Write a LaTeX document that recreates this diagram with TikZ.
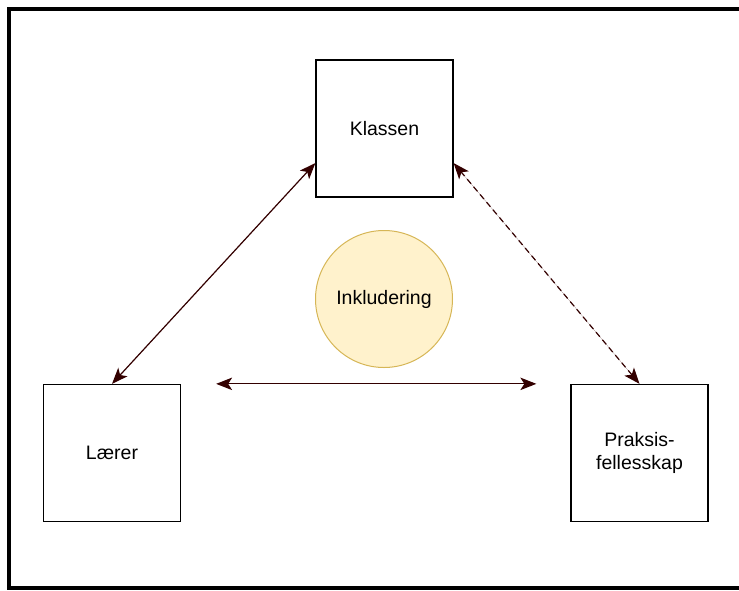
\documentclass[tikz,border=0pt]{standalone}
\usepackage{fontspec}
\setmainfont{Liberation Sans}
\usetikzlibrary{arrows.meta,calc}
\definecolor{linkRed}{HTML}{330000}
\definecolor{noteFill}{HTML}{FFF2CC}
\definecolor{noteLine}{HTML}{D6B656}

\begin{document}
\begin{tikzpicture}[
  x=1pt, y=-1pt,
  font=\fontsize{19.5}{23}\selectfont,
  rolebox/.style={
    rectangle, draw=black, line width=1.3pt, fill=white,
    minimum width=137pt, minimum height=137pt, align=center, inner sep=0pt
  },
  corebox/.style={
    circle, draw=noteLine, line width=1pt, fill=noteFill,
    minimum size=137pt, inner sep=0pt
  },
  link/.style={{Stealth[length=16pt,width=12.5pt,inset=4pt]}-{Stealth[length=16pt,width=12.5pt,inset=4pt]},
    line width=1.2pt, draw=linkRed, fill=linkRed},
  weaklink/.style={link, dash pattern=on 6pt off 4pt},
]
\useasboundingbox (0,0) rectangle (739,590);

% outer frame, cut at the right edge
\draw[line width=4.5pt] (739,9) -- (9,9) -- (9,588) -- (739,588);

\node[rolebox] (klassen) at (384.5,128.5) {Klassen};
\node[rolebox] (laerer) at (112,453) {Lærer};
\node[rolebox] (praksis) at (639.5,453) {Praksis-\\fellesskap};
\node[corebox] (inkl) at (384,299) {Inkludering};

\coordinate (kw) at ($(klassen.north west)!0.75!(klassen.south west)$);
\coordinate (ke) at ($(klassen.north east)!0.75!(klassen.south east)$);
\coordinate (hl) at ($(laerer.north east)+(35,0)$);
\coordinate (hr) at ($(praksis.north west)+(-34,0)$);

\draw[link] (laerer.north) -- (kw);
\draw[weaklink] (praksis.north) -- (ke);
\draw[link] (hl) -- (hr);

\end{tikzpicture}
\end{document}
